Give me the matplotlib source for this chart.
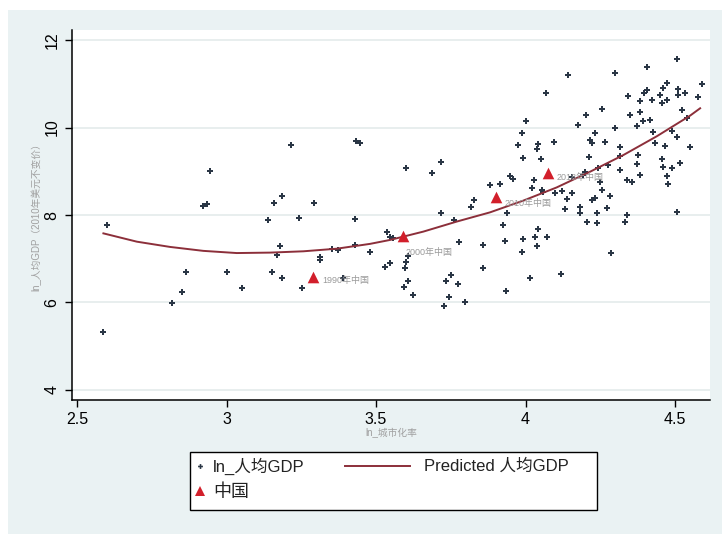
import matplotlib
matplotlib.use("Agg")
import matplotlib.pyplot as plt
from matplotlib.patches import Rectangle
from matplotlib.lines import Line2D

plt.rcParams['font.family'] = ['Liberation Sans', 'Noto Sans CJK SC', 'DejaVu Sans']

# ---- data ----
urban_ln = [2.601, 2.588, 2.819, 2.850, 2.865, 2.922, 2.936, 2.945, 3.003, 3.051,
            3.137, 3.157, 3.185, 3.216, 3.179, 3.168, 3.153, 3.185, 3.241, 3.251,
            3.294, 3.311, 3.311, 3.352, 3.374, 3.391, 3.433, 3.446, 3.431, 3.431,
            3.480, 3.530, 3.545, 3.536, 3.547, 3.558,
            4.067, 4.002, 3.987, 3.974, 4.037, 4.043, 3.993, 4.052, 3.599, 3.716,
            3.688, 3.948, 3.959, 4.028, 3.881, 3.915, 4.021, 4.060, 3.829, 3.817,
            3.716, 3.761, 3.937, 3.924, 4.043,
            4.506, 4.405, 4.299, 4.143, 4.589, 4.472, 4.461, 4.511, 4.533, 4.405,
            4.396, 4.344, 4.450, 4.472, 4.511, 4.578, 4.422, 4.383, 4.455, 4.255,
            4.383, 4.522, 4.349, 4.201, 4.394, 4.416, 4.539, 4.299, 4.372, 4.177,
            4.427, 4.489, 4.232, 4.216, 4.221, 4.266, 4.095, 4.508, 4.433, 4.316,
            4.466, 4.550, 4.377, 4.213, 4.316, 4.455, 4.517, 4.372, 4.461, 4.489,
            4.316, 4.244, 4.277, 4.199, 4.193, 4.383, 4.472, 4.338, 4.355, 4.478,
            4.249, 4.154, 4.054, 4.099, 4.121, 4.154, 4.255, 4.138, 4.221, 4.232,
            4.283, 4.132, 4.182, 4.271, 4.182, 4.238, 4.338, 4.506, 4.205, 4.240,
            4.333, 4.071,
            3.779, 3.859, 3.931, 3.993, 4.032, 4.037, 3.987, 3.608, 3.600, 3.597,
            3.859, 3.750, 3.734, 3.775, 3.608, 3.594, 4.015, 3.935, 3.625, 3.745,
            3.798, 3.727, 4.285, 4.118]
gdp_ln = [7.77, 5.33, 5.98, 6.23, 6.70, 8.21, 8.25, 9.01, 6.69, 6.32,
          7.89, 8.28, 8.44, 9.59, 7.28, 7.09, 6.69, 6.55, 7.92, 6.32,
          8.28, 7.05, 6.97, 7.22, 7.20, 6.55, 9.70, 9.64, 7.90, 7.31,
          7.16, 6.82, 6.91, 7.62, 7.50, 7.47,
          10.80, 10.15, 9.88, 9.59, 9.52, 9.62, 9.31, 9.29, 9.08, 9.22,
          8.95, 8.89, 8.82, 8.80, 8.69, 8.71, 8.62, 8.53, 8.34, 8.18,
          8.04, 7.89, 8.04, 7.76, 7.67,
          11.57, 11.39, 11.24, 11.20, 10.99, 11.01, 10.90, 10.87, 10.80, 10.86,
          10.80, 10.72, 10.74, 10.64, 10.74, 10.70, 10.63, 10.61, 10.55, 10.42,
          10.36, 10.40, 10.29, 10.29, 10.16, 10.17, 10.21, 10.00, 10.03, 10.06,
          9.90, 9.93, 9.87, 9.71, 9.64, 9.68, 9.68, 9.79, 9.64, 9.56,
          9.58, 9.56, 9.37, 9.33, 9.35, 9.27, 9.18, 9.17, 9.10, 9.07,
          9.04, 9.07, 9.14, 8.99, 8.91, 8.91, 8.89, 8.80, 8.76, 8.71,
          8.76, 8.88, 8.57, 8.50, 8.56, 8.51, 8.57, 8.36, 8.34, 8.38,
          8.43, 8.13, 8.19, 8.15, 8.05, 8.04, 8.00, 8.08, 7.85, 7.82,
          7.85, 7.50,
          7.39, 7.31, 7.41, 7.44, 7.49, 7.29, 7.16, 7.06, 6.93, 6.78,
          6.78, 6.63, 6.50, 6.42, 6.48, 6.35, 6.57, 6.27, 6.17, 6.13,
          6.02, 5.93, 7.14, 6.65]

pred_x = [2.588, 2.700, 2.811, 2.922, 3.034, 3.145, 3.257, 3.369, 3.480, 3.547,
          3.658, 3.770, 3.881, 3.993, 4.104, 4.216, 4.327, 4.439, 4.550, 4.584]
pred_y = [7.58, 7.39, 7.27, 7.18, 7.13, 7.14, 7.17, 7.23, 7.34, 7.43,
          7.62, 7.85, 8.06, 8.33, 8.63, 8.99, 9.37, 9.80, 10.27, 10.44]

china_years = ["1990年中国", "2000年中国", "2010年中国", "2018年中国"]
china_x = [3.288, 3.589, 3.901, 4.076]
china_y = [6.59, 7.52, 8.42, 8.95]

x_ticks = [2.5, 3, 3.5, 4, 4.5]
x_ticklabels = ["2.5", "3", "3.5", "4", "4.5"]
y_ticks = [4, 6, 8, 10, 12]
y_ticklabels = ["4", "6", "8", "10", "12"]

legend_labels = ["ln_人均GDP", "Predicted 人均GDP", "中国"]

# ---- figure ----
W, H = 722, 534
fig = plt.figure(figsize=(W / 100, H / 100), dpi=100, facecolor="white")
bg = Rectangle((8 / W, 0), 1 - 8 / W, 1 - 10 / H, transform=fig.transFigure,
               facecolor="#eaf2f3", edgecolor="none", zorder=-10)
fig.patches.append(bg)

ax = fig.add_axes([72 / W, 1 - 400 / H, (710 - 72) / W, (400 - 30) / H])
ax.set_zorder(1)
ax.set_facecolor("white")
ax.set_xlim(2.483, 4.617)
ax.set_ylim(3.77, 12.23)

for yv in y_ticks:
    ax.axhline(yv, color="#e6eded", lw=1.3, zorder=1)

ax.scatter(urban_ln, gdp_ln, marker="P", s=14, color="#2a3645",
           linewidths=0, zorder=3)
ax.plot(pred_x, pred_y, color="#8c2f3a", lw=1.4, zorder=4)
ax.scatter(china_x, china_y, marker="^", s=70, color="#d21f2b",
           linewidths=0, zorder=5)

offsets = [(7, -3), (2, -12), (6, -5), (6, -3)]
for lbl, cx, cy, off in zip(china_years, china_x, china_y, offsets):
    ax.annotate(lbl, (cx, cy), xytext=off, textcoords="offset points",
                fontsize=6.5, color="#9a9a9a", va="center", ha="left", zorder=6)

ax.set_xticks(x_ticks)
ax.set_xticklabels(x_ticklabels, fontsize=11.5)
ax.set_yticks(y_ticks)
ax.set_yticklabels(y_ticklabels, fontsize=11.5, rotation=90, va="center")
ax.tick_params(direction="out", length=5, width=1, color="black", pad=4)

for s in ["top", "right"]:
    ax.spines[s].set_visible(False)
for s in ["left", "bottom"]:
    ax.spines[s].set_linewidth(1.1)
    ax.spines[s].set_color("black")

ax.set_xlabel("ln_城市化率", fontsize=7, color="#a0a0a0", labelpad=0)
ax.set_ylabel("ln_人均GDP（2010年美元不变价）", fontsize=7, color="#a0a0a0",
              labelpad=2)

# ---- legend drawn as a box in figure pixels ----
def fx(px):
    return px / W

def fy(py):
    return 1 - py / H

box = Rectangle((fx(190), fy(510)), fx(597) - fx(190), fy(452) - fy(510),
                transform=fig.transFigure, facecolor="white",
                edgecolor="black", lw=1.0, zorder=5)
fig.patches.append(box)
fig.lines.append(Line2D([fx(200)], [fy(466)], marker="P", ls="none",
                        color="#2a3645", markersize=3.5, markeredgewidth=0,
                        transform=fig.transFigure, zorder=6))
fig.lines.append(Line2D([fx(345), fx(410)], [fy(466), fy(466)],
                        color="#8c2f3a", lw=1.4, transform=fig.transFigure,
                        zorder=6))
fig.lines.append(Line2D([fx(200)], [fy(491)], marker="^", ls="none",
                        color="#d21f2b", markersize=6.5, markeredgewidth=0,
                        transform=fig.transFigure, zorder=6))
fig.text(fx(213), fy(466), legend_labels[0], fontsize=12, va="center",
         ha="left", color="#222222", zorder=7)
fig.text(fx(424), fy(466), legend_labels[1], fontsize=12, va="center",
         ha="left", color="#222222", zorder=7)
fig.text(fx(213), fy(492), legend_labels[2], fontsize=13, va="center",
         ha="left", color="#222222", zorder=7)

fig.savefig("out.png", dpi=100, facecolor=fig.get_facecolor())
